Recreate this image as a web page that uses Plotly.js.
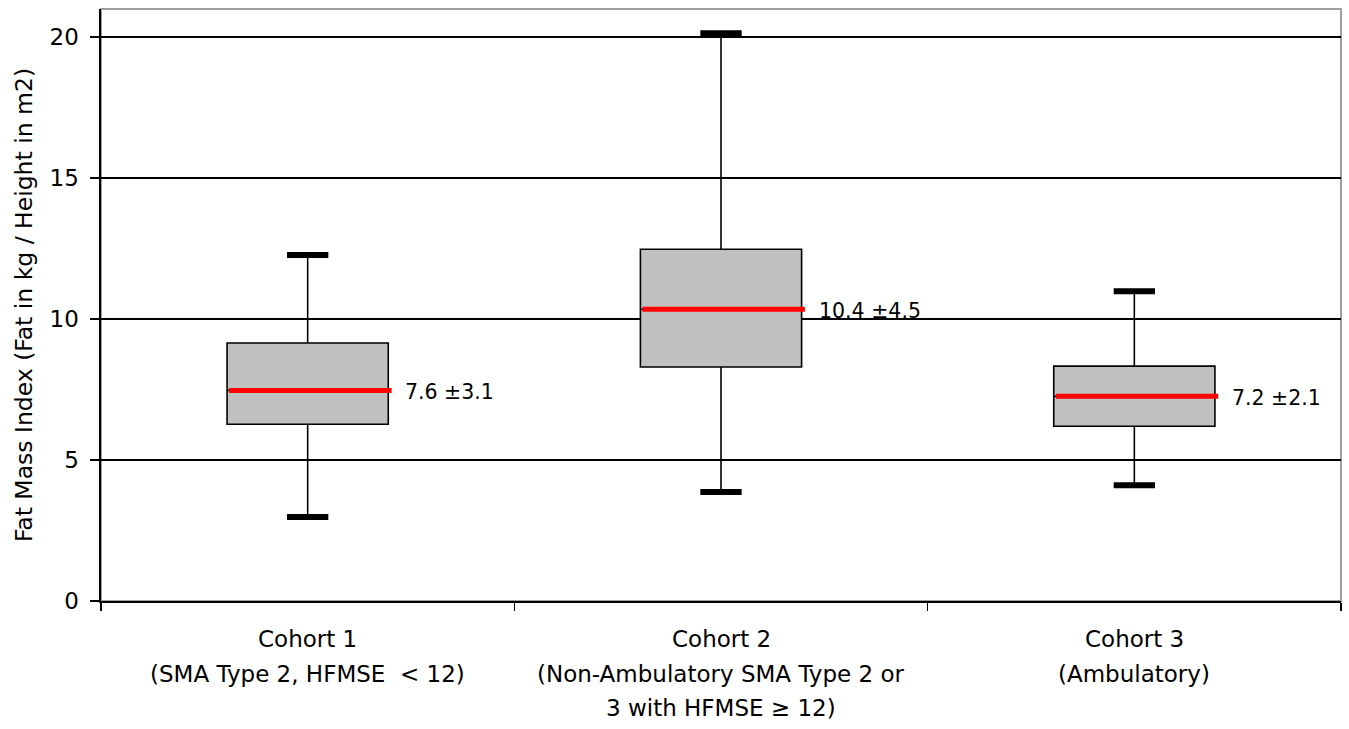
<!DOCTYPE html>
<html>
<head>
<meta charset="utf-8">
<script src="https://cdn.plot.ly/plotly-3.0.1.min.js"></script>
<style>html,body{margin:0;padding:0;background:#fff;}#chart{width:1349px;height:729px;}</style>
</head>
<body>
<div id="chart"></div>
<script>
// ---- data ----
const categoryLines = [
  ["Cohort 1", "(SMA Type 2, HFMSE  < 12)"],
  ["Cohort 2", "(Non-Ambulatory SMA Type 2 or", "3 with HFMSE \u2265 12)"],
  ["Cohort 3", "(Ambulatory)"]
];
const lowerWhisker = [2.98, 3.87, 4.11];
const q1Values     = [6.27, 8.30, 6.20];
const medianValues = [7.47, 10.35, 7.26];
const q3Values     = [9.15, 12.48, 8.33];
const upperWhisker = [12.27, 20.14, 10.99];
const meanSdLabels = ["7.6 \u00b13.1", "10.4 \u00b14.5", "7.2 \u00b12.1"];
const yTickVals = [0, 5, 10, 15, 20];

// ---- build ----
const FONT = "DejaVu Sans, Verdana, sans-serif";
const pos = categoryLines.map((_, i) => i);
const boxW = 0.39;

const boxTrace = {
  type: "box",
  x: pos,
  q1: q1Values,
  median: medianValues,
  q3: q3Values,
  lowerfence: lowerWhisker,
  upperfence: upperWhisker,
  width: boxW,
  whiskerwidth: 0,
  fillcolor: "#c0c0c0",
  line: {color: "#000000", width: 1.6},
  boxpoints: false,
  hoverinfo: "skip",
  showlegend: false
};

// medians (red)
const medX = [], medY = [];
pos.forEach((p, i) => { medX.push(p - boxW/2 + 0.005, p + boxW/2 + 0.008, null); medY.push(medianValues[i], medianValues[i], null); });
const medianTrace = {type: "scatter", mode: "lines", x: medX, y: medY, line: {color: "#ff0000", width: 5}, hoverinfo: "skip", showlegend: false};

// whisker caps (thick black)
const capX = [], capY = [];
pos.forEach((p, i) => {
  capX.push(p - 0.05, p + 0.05, null, p - 0.05, p + 0.05, null);
  capY.push(lowerWhisker[i], lowerWhisker[i], null, upperWhisker[i], upperWhisker[i], null);
});
const capTrace = {type: "scatter", mode: "lines", x: capX, y: capY, line: {color: "#000000", width: 6}, hoverinfo: "skip", showlegend: false};

const annotations = [];
pos.forEach((p, i) => {
  annotations.push({
    x: p + boxW/2, y: medianValues[i], xref: "x", yref: "y",
    text: meanSdLabels[i], showarrow: false, xanchor: "left", yanchor: "middle",
    xshift: 15, yshift: -2,
    font: {family: FONT, size: 20.5, color: "#000"}
  });
  categoryLines[i].forEach((line, k) => {
    annotations.push({
      x: p, y: 0, xref: "x", yref: "paper",
      text: line, showarrow: false, xanchor: "center", yanchor: "middle",
      yshift: -38 - 34.5 * k,
      font: {family: FONT, size: 23, color: "#000"}
    });
  });
});

const layout = {
  width: 1349, height: 729,
  margin: {l: 101, r: 8, t: 9, b: 128},
  paper_bgcolor: "#ffffff", plot_bgcolor: "#ffffff",
  font: {family: FONT, size: 22, color: "#000"},
  showlegend: false,
  xaxis: {
    range: [-0.5, 2.5], tickvals: [-0.5, 0.5, 1.5, 2.5], ticktext: ["", "", "", ""],
    ticks: "outside", ticklen: 8, tickwidth: 1.5, tickcolor: "#000",
    showline: true, linecolor: "#000", linewidth: 1.6, showgrid: false, zeroline: false, fixedrange: true
  },
  yaxis: {
    range: [0, 21.0], tickvals: yTickVals,
    ticks: "outside", ticklen: 9, tickwidth: 1.5, tickcolor: "#000",
    ticklabelstandoff: 7,
    showline: true, linecolor: "#000", linewidth: 1.6,
    showgrid: true, gridcolor: "#000", gridwidth: 1.5, zeroline: false,
    tickfont: {family: FONT, size: 23},
    title: {text: "Fat Mass Index (Fat in kg / Height in m2)", font: {family: FONT, size: 23.5}, standoff: 10},
    fixedrange: true
  },
  shapes: [{type: "rect", xref: "paper", yref: "paper", x0: 0, x1: 1, y0: 0, y1: 1, line: {color: "#a0a0a0", width: 2}, layer: "below"}],
  annotations: annotations
};

Plotly.newPlot("chart", [boxTrace, medianTrace, capTrace], layout, {displayModeBar: false, staticPlot: true});
</script>
</body>
</html>
